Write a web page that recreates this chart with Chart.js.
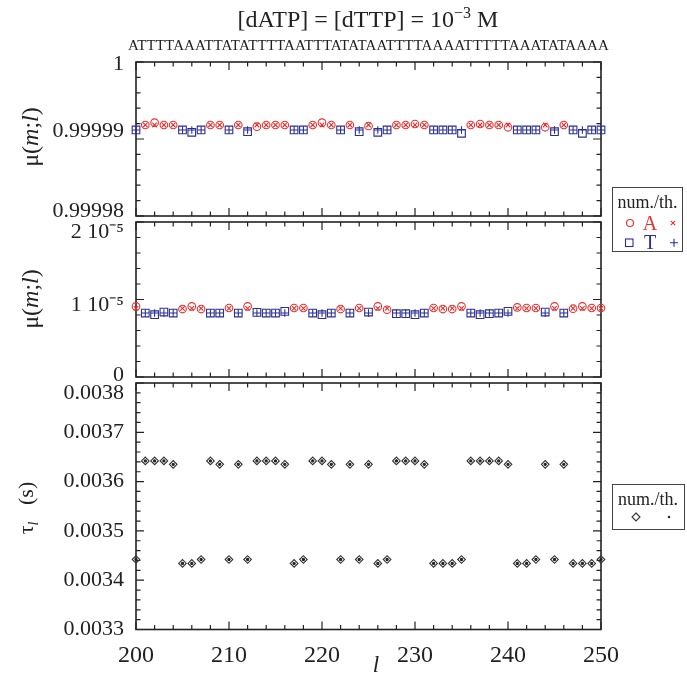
<!DOCTYPE html>
<html><head><meta charset="utf-8">
<script src="https://cdn.jsdelivr.net/npm/chart.js@4.4.1/dist/chart.umd.min.js"></script>
<style>
html,body{margin:0;padding:0;background:#fff;}
#wrap{position:relative;width:687px;height:673px;overflow:hidden;font-family:"Liberation Serif","Times New Roman",serif;color:#222;}
canvas{position:absolute;left:0;top:0;}
.t{position:absolute;white-space:nowrap;transform:translate(-50%,-50%);line-height:1;}
.rot{transform:translate(-50%,-50%) rotate(-90deg);}
.box{position:absolute;border:1px solid #444;box-sizing:border-box;}
</style></head><body>
<div id="wrap">
<canvas id="c1" width="687" height="673"></canvas>
<canvas id="c2" width="687" height="673"></canvas>
<canvas id="c3" width="687" height="673"></canvas>

<div class="t" style="left:368px;top:19px;font-size:24px;">[dATP] = [dTTP] = 10<span style="font-size:16px;position:relative;top:-9px;">−3</span> M</div>
<div class="t" id="seq" style="left:368.5px;top:45px;font-size:15px;letter-spacing:0.1px;"></div>

<div class="t rot" style="left:30px;top:137px;font-size:24px;">μ(<i>m</i>;<i>l</i>)</div>
<div class="t rot" style="left:30px;top:299px;font-size:24px;">μ(<i>m</i>;<i>l</i>)</div>
<div class="t rot" style="left:28px;top:508px;font-size:22px;">τ<sub style="font-size:14px;"><i>l</i></sub>&nbsp;&nbsp;&nbsp;(s)</div>
<div class="t" style="left:376px;top:664px;font-size:23px;"><i>l</i></div>

<div class="box" style="left:612px;top:187px;width:71px;height:65px;"></div>
<div class="t" style="left:647.5px;top:202px;font-size:18px;">num./th.</div>
<div class="t" id="legA" style="left:650px;top:223px;font-size:20px;">A</div>
<div class="t" id="legT" style="left:650px;top:242px;font-size:20px;">T</div>

<div class="box" style="left:612px;top:484px;width:73px;height:46px;"></div>
<div class="t" style="left:648px;top:499px;font-size:18px;">num./th.</div>
<svg id="legsvg" width="687" height="673" style="position:absolute;left:0;top:0;pointer-events:none;"></svg>
</div>
<script>
// ---------------- data ----------------
const positions = [200,201,202,203,204,205,206,207,208,209,210,211,212,213,214,215,216,217,218,219,220,
  221,222,223,224,225,226,227,228,229,230,231,232,233,234,235,236,237,238,239,240,
  241,242,243,244,245,246,247,248,249,250];
const sequenceLabel = "ATTTTAAATTATATTTTAATTTATATAATTTTAAAATTTTTAAATATAAAA";
const bases = ["T","A","A","A","A","T","T","T","A","A","T","A","T","A","A","A","A","T","T","A","A",
  "A","T","A","T","A","T","T","A","A","A","A","T","T","T","T","A","A","A","A","A",
  "T","T","T","A","T","A","T","T","T","T"];
// top panel: mu(m;l) for the correct nucleotide (numerical)
const topNum = [0.99999117,0.99999182,0.99999212,0.99999182,0.99999182,0.99999117,0.99999087,0.99999117,
  0.99999182,0.99999182,0.99999117,0.99999182,0.99999095,0.9999916,0.99999182,0.99999182,0.99999182,
  0.99999117,0.99999117,0.99999182,0.99999212,0.99999182,0.99999117,0.99999182,0.99999095,0.99999169,
  0.99999087,0.99999117,0.99999182,0.99999182,0.99999195,0.99999182,0.99999117,0.99999117,0.99999117,
  0.99999074,0.99999182,0.99999195,0.99999182,0.99999182,0.99999152,0.99999117,0.99999117,0.99999117,
  0.99999152,0.99999095,0.99999182,0.99999117,0.99999074,0.99999117,0.99999117];
const topTh = {A: 0.99999182, T: 0.99999117};
// middle panel: mu(m;l) for the wrong nucleotide (numerical)
const midNum = [9.11e-6,8.25e-6,8.04e-6,8.38e-6,8.25e-6,8.77e-6,9.11e-6,8.77e-6,8.25e-6,8.25e-6,
  8.90e-6,8.25e-6,9.11e-6,8.34e-6,8.25e-6,8.25e-6,8.47e-6,8.90e-6,8.90e-6,8.25e-6,8.04e-6,
  8.25e-6,8.77e-6,8.25e-6,8.90e-6,8.38e-6,9.11e-6,8.68e-6,8.17e-6,8.17e-6,8.04e-6,8.25e-6,
  8.90e-6,8.77e-6,8.77e-6,9.11e-6,8.25e-6,8.04e-6,8.17e-6,8.25e-6,8.47e-6,8.98e-6,8.90e-6,
  8.90e-6,8.38e-6,9.11e-6,8.25e-6,8.81e-6,9.11e-6,8.90e-6,8.90e-6];
const midTh = {A: 8.85e-6, T: 8.25e-6};   // keyed by the wrongly incorporated nucleotide
// bottom panel: tau_l (s)
const tauNum = [0.003442,0.003642,0.003642,0.003642,0.003635,0.003434,0.003434,0.003442,0.003642,0.003635,
  0.003442,0.003635,0.003442,0.003642,0.003642,0.003642,0.003635,0.003434,0.003442,0.003642,0.003642,
  0.003635,0.003442,0.003635,0.003442,0.003635,0.003434,0.003442,0.003642,0.003642,0.003642,0.003635,
  0.003434,0.003434,0.003434,0.003442,0.003642,0.003642,0.003642,0.003642,0.003635,0.003434,0.003434,
  0.003442,0.003635,0.003442,0.003635,0.003434,0.003434,0.003434,0.003442];
const tauTh = tauNum.slice(); // theory coincides with numerics at this resolution

const xTickValues = [200,210,220,230,240,250];
const xTickLabels = ["200","210","220","230","240","250"];
const topTickValues = [0.99998,0.99999,1];
const topTickLabels = ["0.99998","0.99999","1"];
const midTickValues = [0,1e-5,2e-5];
const midTickLabels = ["0","1 10\u207B\u2075","2 10\u207B\u2075"];
const botTickValues = [0.0033,0.0034,0.0035,0.0036,0.0037,0.0038];
const botTickLabels = ["0.0033","0.0034","0.0035","0.0036","0.0037","0.0038"];

// ---------------- drawing ----------------
const RED = '#e8302f', BLUE = '#2b2f94', INK = '#222';
const FONT = '"Liberation Serif","Times New Roman",serif';
document.getElementById('seq').textContent = sequenceLabel;
document.getElementById('legA').style.color = RED;
document.getElementById('legT').style.color = BLUE;

function pts(vals, pred) {
  const out = [];
  positions.forEach((p, i) => { if (pred(i)) out.push({x: p, y: typeof vals === 'function' ? vals(i) : vals[i]}); });
  return out;
}
function ds(data, style, radius, color, fill) {
  return {data, pointStyle: style, pointRadius: radius, pointBorderColor: color, pointBackgroundColor: fill || 'rgba(0,0,0,0)',
    pointBorderWidth: 1.1, showLine: false, clip: false};
}

const framePlugin = {
  id: 'frame',
  beforeDatasetsDraw(chart, args, opts) {
    const {ctx, chartArea: a, scales: {x, y}} = chart;
    ctx.save();
    ctx.strokeStyle = INK;
    ctx.lineWidth = 1.2;
    ctx.beginPath();
    for (let v = 200; v <= 250; v += 2) {
      const px = x.getPixelForValue(v), L = (v % 10 === 0) ? 8 : 4.5;
      ctx.moveTo(px, a.bottom); ctx.lineTo(px, a.bottom - L);
      ctx.moveTo(px, a.top); ctx.lineTo(px, a.top + L);
    }
    const n = opts.div, mj = opts.major;
    for (let i = 0; i <= n; i++) {
      const py = y.getPixelForValue(y.min + (y.max - y.min) * i / n), L = (i % mj === 0) ? 8 : 4.5;
      ctx.moveTo(a.left, py); ctx.lineTo(a.left + L, py);
      ctx.moveTo(a.right, py); ctx.lineTo(a.right - L, py);
    }
    ctx.stroke();
    ctx.lineWidth = 1.6;
    ctx.strokeRect(a.left, a.top, a.right - a.left, a.bottom - a.top);
    ctx.restore();
  },
  afterDraw(chart, args, opts) {
    // y tick labels, nudged like the reference so that neighbouring panels do not collide
    const {ctx, chartArea: a, scales: {y}} = chart;
    ctx.save();
    ctx.fillStyle = INK;
    ctx.font = '22px ' + FONT;
    ctx.textAlign = 'right';
    ctx.textBaseline = 'middle';
    opts.tv.forEach((v, i) => ctx.fillText(opts.tl[i], a.left - 12, y.getPixelForValue(v) + opts.off[i]));
    ctx.restore();
  }
};

function makeChart(id, pad, yMin, yMax, tv, tl, off, div, major, datasets, showX) {
  return new Chart(document.getElementById(id), {
    type: 'scatter',
    data: {datasets},
    plugins: [framePlugin],
    options: {
      responsive: false, animation: false, events: [],
      layout: {padding: pad},
      plugins: {legend: {display: false}, tooltip: {enabled: false}, frame: {div, major, tv, tl, off}},
      scales: {
        x: {
          type: 'linear', min: 200, max: 250, display: showX,
          grid: {display: false, drawTicks: false}, border: {display: false},
          ticks: {padding: 12, color: INK, font: {family: FONT, size: 24}, maxRotation: 0,
            callback: (v, i) => xTickLabels[i]},
          afterBuildTicks: s => { s.ticks = xTickValues.map(v => ({value: v})); },
          afterFit: s => { s.height = showX ? 43.5 : 0; }
        },
        y: {
          type: 'linear', min: yMin, max: yMax,
          grid: {display: false, drawTicks: false}, border: {display: false},
          ticks: {display: false},
          afterBuildTicks: s => { s.ticks = tv.map(v => ({value: v})); },
          afterFit: s => { s.width = 136; }
        }
      }
    }
  });
}

const isA = i => bases[i] === 'A', isT = i => bases[i] === 'T';

makeChart('c1', {left: 0, right: 86, top: 62, bottom: 673 - 216}, 0.99998, 1,
  topTickValues, topTickLabels, [-5, -8, 2.5], 10, 5, [
  ds(pts(topNum, isA), 'circle', 3.8, RED),
  ds(pts(topNum, isT), 'rect', 5.4, BLUE),
  ds(pts(i => topTh.A, isA), 'crossRot', 3.2, RED),
  ds(pts(i => topTh.T, isT), 'cross', 3.8, BLUE)
], false);

makeChart('c2', {left: 0, right: 86, top: 222, bottom: 673 - 377}, 0, 2e-5,
  midTickValues, midTickLabels, [-2, 6, 10], 10, 5, [
  ds(pts(midNum, isT), 'circle', 3.8, RED),
  ds(pts(midNum, isA), 'rect', 5.4, BLUE),
  ds(pts(i => midTh.A, isT), 'crossRot', 3.2, RED),
  ds(pts(i => midTh.T, isA), 'cross', 3.8, BLUE)
], false);

makeChart('c3', {left: 0, right: 86, top: 383, bottom: 0}, 0.0033, 0.0038,
  botTickValues, botTickLabels, [0, 0, 0, 0, 0, 10], 25, 5, [
  ds(pts(tauNum, () => true), 'rectRot', 3.8, '#333'),
  ds(pts(tauTh, () => true), 'circle', 1.1, '#222', '#222')
], true);

// legend symbols
const svg = document.getElementById('legsvg');
const NS = 'http://www.w3.org/2000/svg';
function el(tag, attrs) { const e = document.createElementNS(NS, tag); for (const k in attrs) e.setAttribute(k, attrs[k]); svg.appendChild(e); }
el('circle', {cx: 630, cy: 223, r: 3.5, fill: 'none', stroke: RED, 'stroke-width': 1.1});
el('path', {d: 'M670.8 220.8 L675.2 225.2 M675.2 220.8 L670.8 225.2', stroke: RED, 'stroke-width': 1.1});
el('rect', {x: 625.5, y: 239, width: 7.5, height: 7.5, fill: 'none', stroke: BLUE, 'stroke-width': 1.1});
el('path', {d: 'M670 242.7 L678 242.7 M674 238.7 L674 246.7', stroke: BLUE, 'stroke-width': 1.1});
el('path', {d: 'M636 513 L640 517 L636 521 L632 517 Z', fill: 'none', stroke: '#333', 'stroke-width': 1.1});
el('circle', {cx: 669, cy: 517, r: 1.2, fill: '#222'});
</script>
</body></html>
